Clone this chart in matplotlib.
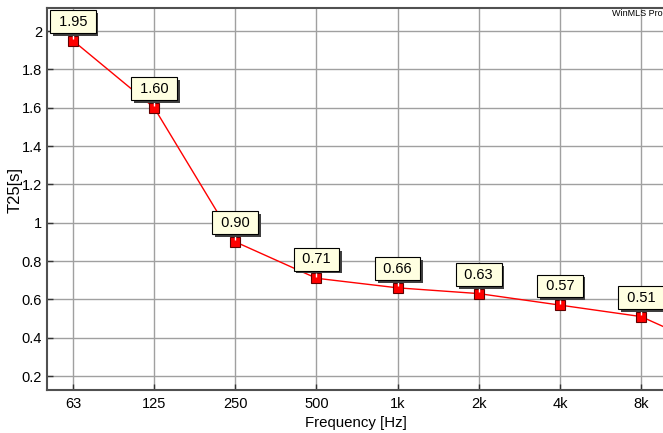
import matplotlib
matplotlib.use('Agg')
import matplotlib.pyplot as plt
import matplotlib.patheffects as pe
import matplotlib.transforms as mtrans

freq_labels = ['63', '125', '250', '500', '1k', '2k', '4k', '8k']
t25 = [1.95, 1.60, 0.90, 0.71, 0.66, 0.63, 0.57, 0.51]
t25_16k = 0.32   # next band, runs off the right edge
yticks = [0.2, 0.4, 0.6, 0.8, 1.0, 1.2, 1.4, 1.6, 1.8, 2.0]
ytick_labels = ['0.2', '0.4', '0.6', '0.8', '1', '1.2', '1.4', '1.6', '1.8', '2']

plt.rcParams['font.family'] = ['Liberation Sans', 'DejaVu Sans']

fig = plt.figure(figsize=(6.63, 4.33), dpi=100)
ax = fig.add_axes([47/663, 1-390/433, 1-47/663, 382/433])

x = list(range(len(t25)))
ax.plot(x + [len(t25)], t25 + [t25_16k], color='red', lw=1, zorder=3)
ax.plot(x, t25, ls='none', marker='s', ms=6.8, mfc='red', mec='#600000', mew=0.8, zorder=4)
# little white tick on top of each marker
up = mtrans.offset_copy(ax.transData, fig=fig, x=0, y=3.5, units='dots')
ax.plot(x, t25, ls='none', marker='|', ms=2.2, mec='white', mew=1, transform=up, zorder=5)

for xi, v in zip(x, t25):
    t = ax.annotate(' %.2f ' % v, (xi, v), xytext=(0, 19), textcoords='offset pixels',
                    ha='center', va='center', fontsize=10.5, zorder=6,
                    bbox=dict(boxstyle='square,pad=0.3', fc='#ffffe1', ec='black', lw=0.8))
    t.get_bbox_patch().set_path_effects([
        pe.SimplePatchShadow(offset=(2, -2), shadow_rgbFace='#404040', alpha=1.0),
        pe.Normal()])

ax.set_xlim(-0.32, 7.27)
ax.set_ylim(0.127, 2.12)
ax.set_xticks(x)
ax.set_xticklabels(freq_labels)
ax.set_yticks(yticks)
ax.set_yticklabels(ytick_labels)
ax.tick_params(labelsize=10.5, direction='in', length=4, color='#333333', width=1)
ax.tick_params(axis='x', pad=5)
ax.grid(True, color='#a0a0a0', lw=1)
ax.set_axisbelow(True)

for s in ['left', 'bottom', 'top']:
    ax.spines[s].set_color('#505050')
    ax.spines[s].set_linewidth(1.5)
ax.spines['right'].set_visible(False)

fig.text(356/663, 1-423/433, 'Frequency [Hz]', ha='center', va='center', fontsize=10.8)
fig.text(15/663, 1-190/433, 'T25[s]', ha='center', va='center', rotation=90, fontsize=12)
fig.text(1.0, 1-13/433, 'WinMLS Pro', ha='right', va='center', fontsize=6.5)

fig.savefig('out.png', dpi=100)
